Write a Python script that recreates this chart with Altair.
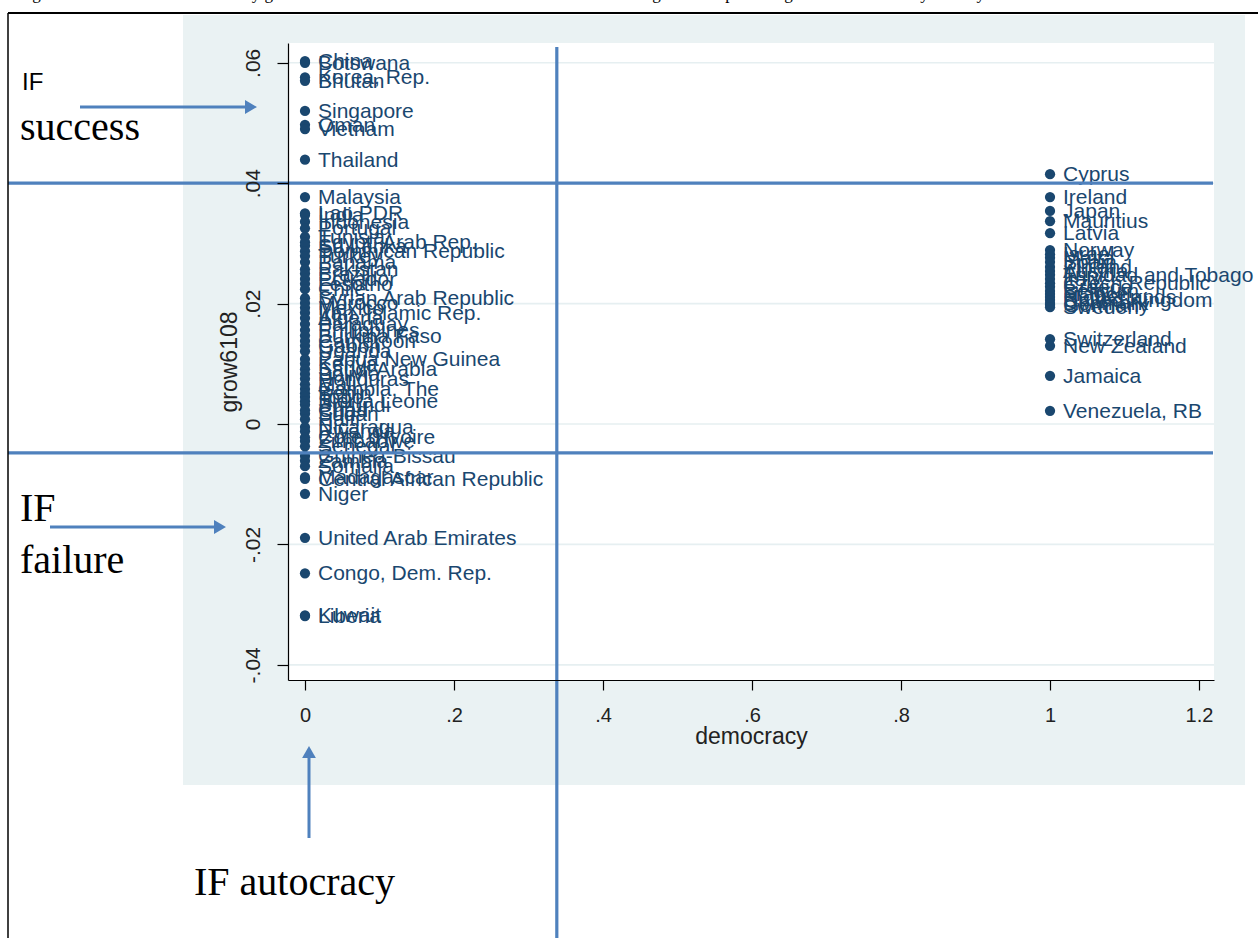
import altair as alt
import pandas as pd

# Average annual growth 1961-2008 (grow6108) by regime type
auto_names = [
    "China", "Botswana", "Korea, Rep.", "Bhutan", "Singapore", "Oman", "Vietnam",
    "Thailand", "Malaysia", "Lao PDR", "India", "Indonesia", "Portugal", "Tunisia",
    "Egypt, Arab Rep.", "Sri Lanka", "Dominican Republic", "Turkey", "Panama",
    "Pakistan", "Brazil", "Ecuador", "Lesotho", "Chile", "Syrian Arab Republic",
    "Morocco", "Mexico", "Iran, Islamic Rep.", "Algeria", "Paraguay", "Philippines",
    "Burkina Faso", "Cameroon", "Gabon", "Uganda", "Papua New Guinea", "Kenya",
    "Saudi Arabia", "Bolivia", "Honduras", "Mali", "Gambia, The", "Benin", "Togo",
    "Sierra Leone", "Burundi", "Chad", "Sudan", "Haiti", "Nicaragua", "Rwanda",
    "Cote d'Ivoire", "Zimbabwe", "Senegal", "Guinea-Bissau", "Zambia", "Somalia",
    "Madagascar", "Central African Republic", "Niger", "United Arab Emirates",
    "Congo, Dem. Rep.", "Kuwait", "Liberia",
]
auto_growth = [
    0.0603, 0.0600, 0.0576, 0.0570, 0.0520, 0.0497, 0.0490,
    0.0439, 0.0377, 0.0350, 0.0347, 0.0336, 0.0325, 0.0311,
    0.0302, 0.0296, 0.0287, 0.0279, 0.0269,
    0.0257, 0.0250, 0.0241, 0.0233, 0.0224, 0.0209,
    0.0201, 0.0193, 0.0185, 0.0176, 0.0166, 0.0156,
    0.0147, 0.0138, 0.0130, 0.0121, 0.0108, 0.0100,
    0.0091, 0.0083, 0.0075, 0.0066, 0.0058, 0.0051, 0.0045,
    0.0038, 0.0032, 0.0023, 0.0017, 0.0008, -0.0005, -0.0012,
    -0.0022, -0.0028, -0.0037, -0.0053, -0.0061, -0.0070,
    -0.0088, -0.0091, -0.0116, -0.0189,
    -0.0248, -0.0318, -0.0319,
]
demo_names = [
    "Cyprus", "Ireland", "Japan", "Mauritius", "Latvia", "Norway", "Israel",
    "Malta", "Spain", "Finland", "Austria", "Trinidad and Tobago", "Italy",
    "Czech Republic", "Greece", "Belgium", "France", "Netherlands",
    "United Kingdom", "Denmark", "Germany", "Sweden", "Switzerland",
    "New Zealand", "Jamaica", "Venezuela, RB",
]
demo_growth = [
    0.0415, 0.0377, 0.0354, 0.0337, 0.0317, 0.0289, 0.0282,
    0.0276, 0.0269, 0.0261, 0.0254, 0.0248, 0.0241,
    0.0234, 0.0228, 0.0221, 0.0216, 0.0211,
    0.0206, 0.0201, 0.0198, 0.0194, 0.0141,
    0.0130, 0.0080, 0.0022,
]

x_ticks = [0, 0.2, 0.4, 0.6, 0.8, 1.0, 1.2]
y_ticks = [-0.04, -0.02, 0, 0.02, 0.04, 0.06]
x_domain = [-0.0228, 1.2201]
y_domain = [-0.04252, 0.06329]

# thresholds marked on the figure
success_cut = 0.04
failure_cut = -0.0048
regime_cut = 0.338

TITLE = ("Figure 4: Variation in cross-country growth rates 1961-2008 in "
         "autocracies and democracies: grow6108 plotted against the democracy dummy")

# layout (pixels)
W, H = 926, 637
PAD = {"left": 288, "top": 43, "right": 44, "bottom": 258}

NAVY = "#1a476f"
BLUE = "#4f81bd"
GRAPH_BG = "#eaf2f3"
GRID = "#e6eff1"
INK = "#222222"
SANS = "Liberation Sans"
SERIF = "Liberation Serif"

pts = pd.DataFrame({
    "country": auto_names + demo_names,
    "democracy": [0.0] * len(auto_names) + [1.0] * len(demo_names),
    "grow6108": auto_growth + demo_growth,
})

label_expr = ("datum.value == 0 ? '0' : (datum.value < 0 ? '-' : '') + "
              "replace(format(abs(datum.value), '.2~f'), '0.', '.')")

x_enc = alt.X(
    "democracy:Q",
    scale=alt.Scale(domain=x_domain, nice=False, zero=False),
    axis=alt.Axis(
        values=x_ticks, labelExpr=label_expr, title="democracy", grid=False,
        tickSize=10, tickColor="black", domainColor="black", domainWidth=1.2,
        tickWidth=1.2, labelFont=SANS, labelFontSize=20, labelColor=INK,
        labelPadding=15, labelFlush=False, titleFont=SANS, titleFontSize=23,
        titleFontWeight="normal", titleColor=INK, titleY=63,
        titleBaseline="alphabetic", zindex=1,
    ),
)
y_enc = alt.Y(
    "grow6108:Q",
    scale=alt.Scale(domain=y_domain, nice=False, zero=False),
    axis=alt.Axis(
        values=y_ticks, labelExpr=label_expr, title="grow6108", grid=False,
        tickSize=11, tickColor="black", domainColor="black", domainWidth=1.2,
        tickWidth=1.2, labelFont=SANS, labelFontSize=21, labelColor=INK,
        labelAngle=270, labelAlign="center", labelBaseline="alphabetic",
        labelPadding=18, labelFlush=False, titleFont=SANS, titleFontSize=23,
        titleFontWeight="normal", titleColor=INK, titleAngle=270,
        titleX=-52, titleY=H / 2, titleAlign="center",
        titleBaseline="alphabetic", zindex=1,
    ),
)

one = pd.DataFrame({"k": [0]})

# graph region and white plot region
graph_bg = alt.Chart(one).mark_rect(color=GRAPH_BG).encode(
    x=alt.value(-105), x2=alt.value(957), y=alt.value(-28), y2=alt.value(742))
plot_bg = alt.Chart(one).mark_rect(color="white").encode(
    x=alt.value(0), x2=alt.value(W), y=alt.value(0), y2=alt.value(H))

grid = alt.Chart(pd.DataFrame({"grow6108": y_ticks})).mark_rule(
    color=GRID, strokeWidth=1.6).encode(
    y="grow6108:Q", x=alt.value(0), x2=alt.value(W))

points = alt.Chart(pts).mark_circle(size=105, color=NAVY, opacity=1).encode(
    x=x_enc, y=y_enc)
labels = alt.Chart(pts).mark_text(
    align="left", baseline="middle", dx=13, dy=1, font=SANS, fontSize=21,
    color=NAVY).encode(x="democracy:Q", y="grow6108:Q", text="country:N")

# quadrant lines
vline = alt.Chart(pd.DataFrame({"democracy": [regime_cut]})).mark_rule(
    color=BLUE, strokeWidth=3.2).encode(
    x="democracy:Q", y=alt.value(4), y2=alt.value(895))
hlines = alt.Chart(pd.DataFrame({"grow6108": [success_cut, failure_cut]})).mark_rule(
    color=BLUE, strokeWidth=3.2).encode(
    y="grow6108:Q", x=alt.value(-280), x2=alt.value(925))

# arrows pointing at the groups
arrow_success = alt.Chart(one).mark_rule(color=BLUE, strokeWidth=3).encode(
    x=alt.value(-208), x2=alt.value(-37), y=alt.value(64))
head_success = alt.Chart(one).mark_point(
    shape="triangle-right", filled=True, size=190, color=BLUE, opacity=1).encode(
    x=alt.value(-37), y=alt.value(64))
arrow_failure = alt.Chart(one).mark_rule(color=BLUE, strokeWidth=3).encode(
    x=alt.value(-238), x2=alt.value(-68), y=alt.value(484))
head_failure = alt.Chart(one).mark_point(
    shape="triangle-right", filled=True, size=190, color=BLUE, opacity=1).encode(
    x=alt.value(-68), y=alt.value(484))
arrow_auto = alt.Chart(one).mark_rule(color=BLUE, strokeWidth=3).encode(
    x=alt.value(21), y=alt.value(795), y2=alt.value(709))
head_auto = alt.Chart(one).mark_point(
    shape="triangle-up", filled=True, size=190, color=BLUE, opacity=1).encode(
    x=alt.value(21), y=alt.value(709))

def note(text, x, y, font, size):
    return alt.Chart(one).mark_text(
        text=text, align="left", baseline="alphabetic", font=font,
        fontSize=size, color="black").encode(x=alt.value(x), y=alt.value(y))

notes = [
    note("IF", -266, 47, SANS, 24),
    note("success", -268, 97, SERIF, 40),
    note("IF", -268, 478, SERIF, 40),
    note("failure", -268, 530, SERIF, 40),
    note("IF autocracy", -94, 852, SERIF, 40),
    note(TITLE, -270, -44, SERIF, 17),
]

# page frame
frame_top = alt.Chart(one).mark_rule(color="black", strokeWidth=2).encode(
    x=alt.value(-280), x2=alt.value(980), y=alt.value(-30))
frame_left = alt.Chart(one).mark_rule(color="black", strokeWidth=1.5).encode(
    x=alt.value(-280), y=alt.value(-30), y2=alt.value(900))

chart = alt.layer(
    graph_bg, plot_bg, grid, points, labels, vline, hlines,
    arrow_success, head_success, arrow_failure, head_failure,
    arrow_auto, head_auto, *notes, frame_top, frame_left,
).properties(
    width=W, height=H, padding=PAD,
    autosize=alt.AutoSizeParams(type="none", contains="content"),
).configure(background="white").configure_view(strokeWidth=0)

chart.save("out.html", embed_options={"renderer": "svg", "actions": False})
